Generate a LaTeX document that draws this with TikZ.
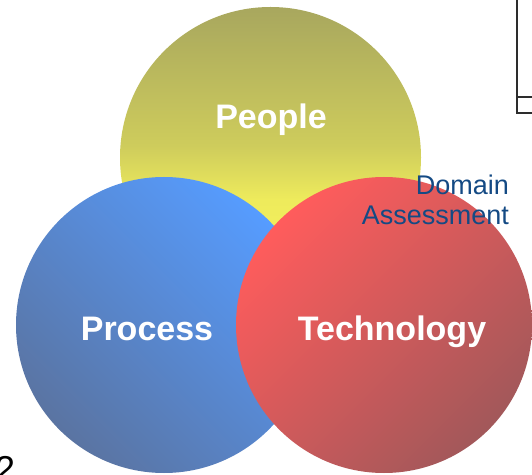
\documentclass[tikz,border=0pt]{standalone}
\usepackage{fontspec}
\setmainfont{Liberation Sans}

\definecolor{peopleTop}{RGB}{168,167,94}
\definecolor{peopleMid}{RGB}{206,204,92}
\definecolor{peopleLow}{RGB}{238,235,92}
\definecolor{peopleBot}{RGB}{248,245,92}
\definecolor{processLight}{RGB}{86,156,255}
\definecolor{processDark}{RGB}{90,116,162}
\definecolor{techLight}{RGB}{255,92,92}
\definecolor{techDark}{RGB}{162,88,90}
\definecolor{domainBlue}{RGB}{20,74,132}
\definecolor{frameGray}{RGB}{45,45,45}

\pgfdeclareverticalshading{peopleshade}{100bp}{%
  color(0bp)=(peopleBot); color(25bp)=(peopleBot); color(43bp)=(peopleLow);
  color(52bp)=(peopleMid); color(75bp)=(peopleTop); color(100bp)=(peopleTop)}

\tikzset{
  ring/.style={circle, inner sep=0pt, minimum size=#1},
  tag/.style={text=white, font=\fontsize{34}{34}\selectfont\bfseries, anchor=base, inner sep=0pt},
}

\begin{document}
\begin{tikzpicture}[x=1pt,y=1pt]
  \useasboundingbox (0,0) rectangle (532,474);
  % the three circles
  \node [ring=301pt, shading=peopleshade] (people) at (270.5,316.5) {};
  \node [ring=296pt, top color=processLight, bottom color=processDark, shading angle=-45] (process) at (164,149) {};
  \node [ring=296pt, top color=techLight, bottom color=techDark, shading angle=45] (tech) at (384,149) {};
  % labels
  \node [tag] (peopleTxt) at (271,345) {People};
  \node [tag] (processTxt) at (147,134) {Process};
  \node [tag] (techTxt) at (392,134) {Technology};
  \node [text=domainBlue, font=\fontsize{27}{30}\selectfont, align=right, anchor=north east, inner sep=0pt] (domain) at (509,299) {Domain\\Assessment};
  % frame corner, top right
  \draw [frameGray, line width=1.5pt] (532,377) -- (517,377);
  \draw [frameGray, line width=1.5pt] (517,474) -- (517,361) -- (532,361);
  % page number, cut off
  \node [font=\fontsize{36}{36}\selectfont, anchor=base west, inner sep=0pt] (pageNo) at (-5,-7) {2};
\end{tikzpicture}
\end{document}
